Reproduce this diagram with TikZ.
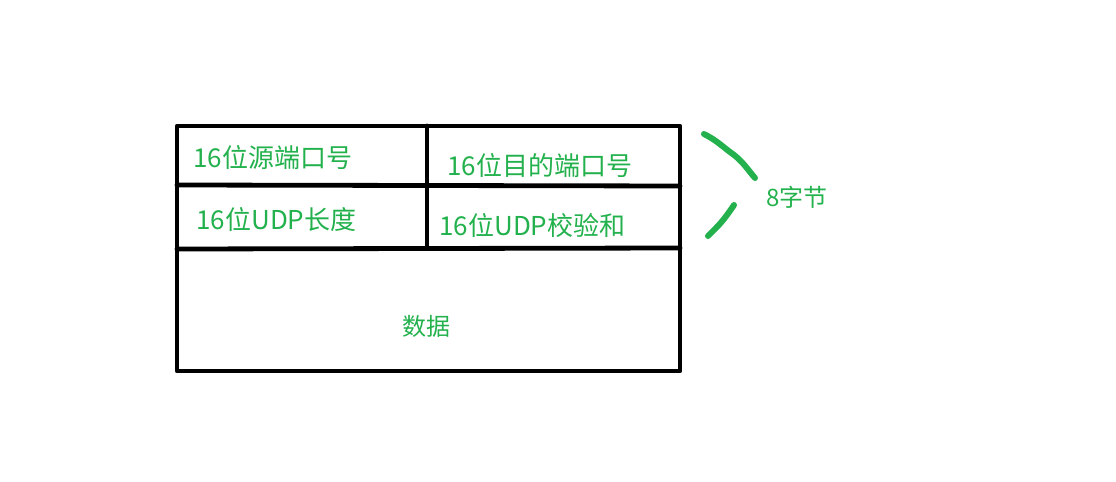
\documentclass[tikz,border=0pt]{standalone}
\usepackage{fontspec}
\newfontfamily\cjk{Noto Sans CJK SC}
\definecolor{paintgreen}{RGB}{34,177,76}
\tikzset{
  field/.style={font=\cjk\fontsize{13pt}{15pt}\selectfont,text=paintgreen,anchor=west,inner sep=0pt},
  note/.style={font=\cjk\fontsize{12pt}{14pt}\selectfont,text=paintgreen,inner sep=0pt},
}
\begin{document}
\begin{tikzpicture}[
    x=0.5pt,y=-0.5pt,
    line cap=round,
    line join=round,
]
\useasboundingbox (0,0) rectangle (1116,482);
% header and data box
\draw[line width=2.4pt] (177,126) rectangle (680,371);
\draw[line width=2.4pt] (177,185) -- (680,186);
\draw[line width=2.4pt] (177,249) -- (680,248);
\draw[line width=2.4pt] (427,126) -- (427,248);
% field names
\node[field] (src) at (193,158) {16位源端口号};
\node[field] (dst) at (447,166) {16位目的端口号};
\node[field] (len) at (196,220) {16位UDP长度};
\node[field] (sum) at (439,226) {16位UDP校验和};
\node[note] (data) at (426,326) {数据};
% brace
\node[note,anchor=west] (size) at (766,197) {8字节};
\draw[paintgreen,line width=3pt]
  (704,134) .. controls (716,140) and (722,146) .. (730,152)
  .. controls (742,160) and (748,170) .. (755,178);
\draw[paintgreen,line width=3pt]
  (734,205) .. controls (728,214) and (722,222) .. (716,228)
  .. controls (712,232) and (710,234) .. (708,236);
\end{tikzpicture}
\end{document}
